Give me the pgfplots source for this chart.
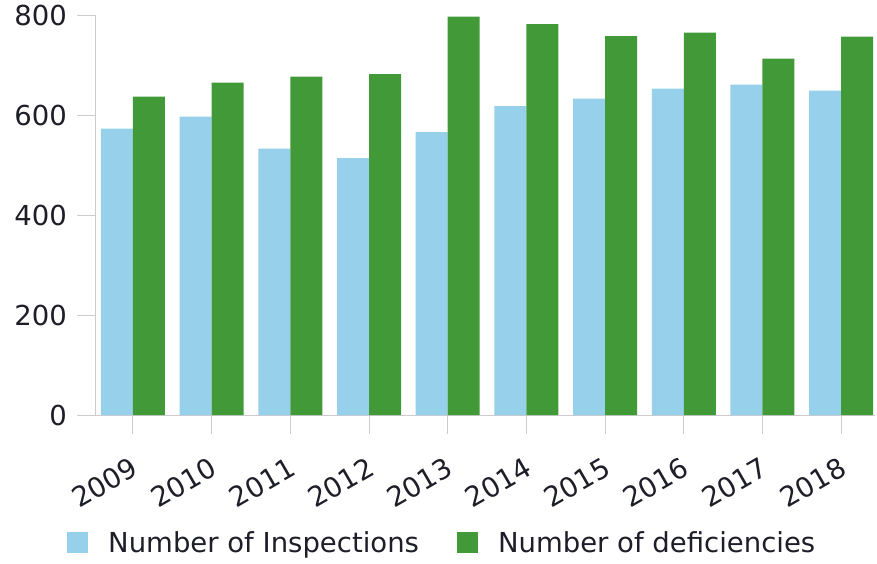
\documentclass[border=0pt]{standalone}
\usepackage{pgfplots}
\pgfplotsset{compat=1.18}
\usepackage{fontspec}
\setmainfont{DejaVu Sans}
\definecolor{inspblue}{HTML}{97D0EA}
\definecolor{defgreen}{HTML}{429937}
\definecolor{axgray}{HTML}{CCCCCC}
\definecolor{txt}{HTML}{1E1E28}
\begin{document}
\begin{tikzpicture}
\begin{axis}[
  name=ax,
  scale only axis,
  width=779pt, height=400pt,
  xmin=-0.47, xmax=9.43,
  ymin=0, ymax=800,
  ytick={0,200,400,600,800},
  xtick={0,...,9},
  xticklabels={2009,2010,2011,2012,2013,2014,2015,2016,2017,2018},
  axis x line=bottom, axis y line=left,
  axis line style={axgray, line width=1pt, -},
  tick style={axgray, line width=1pt},
  tick align=outside,
  major tick length=19pt,
  ybar=0pt, bar width=32pt,
  /pgf/number format/assume math mode=true,
  ticklabel style={font=\fontsize{27.5}{33}\selectfont, text=txt},
  xticklabel style={xshift=-3pt, yshift=-22pt, rotate=30, anchor=north east, inner sep=0pt},
  yticklabel style={inner sep=0pt, xshift=-10pt},
  legend style={draw=none, fill=none, inner sep=0pt, font=\fontsize{27.5}{33}\selectfont, text=txt,
    at={(-0.0372,-0.3188)}, anchor=west, legend columns=2,
    /tikz/every even column/.append style={column sep=36pt}},
  legend image code/.code={\fill[#1,draw=none] (0pt,-10.5pt) rectangle (21pt,10.5pt); \path (39pt,0pt);},
  legend cell align=left,
]
\addplot[fill=inspblue, draw=none] coordinates {(0,573) (1,597) (2,533) (3,514) (4,566) (5,618) (6,633) (7,653) (8,661) (9,649)};
\addplot[fill=defgreen, draw=none] coordinates {(0,637) (1,665) (2,677) (3,682) (4,797) (5,782) (6,758) (7,765) (8,713) (9,757)};
\legend{Number of Inspections, Number of deficiencies}
\end{axis}
\pgfresetboundingbox
\path[use as bounding box] ([xshift=-96pt,yshift=-148pt]ax.south west) rectangle ([xshift=2pt,yshift=15pt]ax.north east);
\end{tikzpicture}
\end{document}
